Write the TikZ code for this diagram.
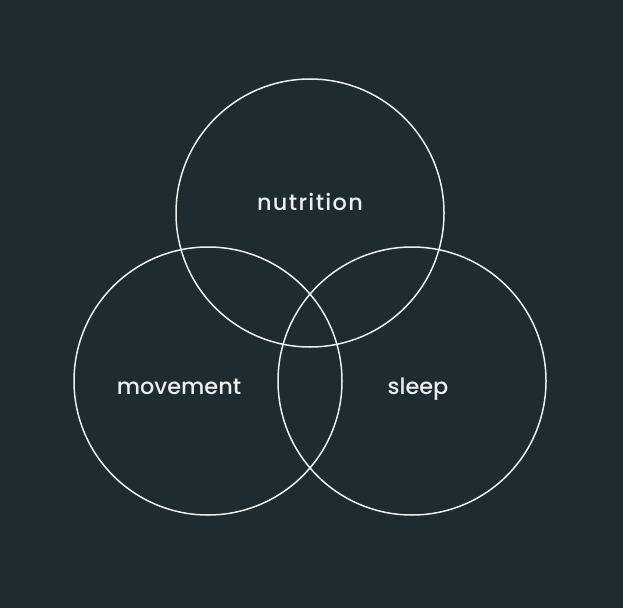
\documentclass[tikz,border=0pt]{standalone}
\usepackage{fontspec}
\setmainfont{Poppins}
\newfontfamily\lblfont{Poppins Medium}
\newfontfamily\lblwidefont{Poppins Medium}[LetterSpace=6]
\definecolor{bg}{HTML}{1E2B31}
\definecolor{ink}{HTML}{ECEFEF}
\begin{document}
\begin{tikzpicture}[x=1bp,y=-1bp,
  ring/.style={draw=ink,line width=1.5bp},
  lbl/.style={text=ink,font=\lblfont\fontsize{22.5}{26}\selectfont,inner sep=0pt,anchor=base},
  widelbl/.style={lbl,font=\lblwidefont\fontsize{22.5}{26}\selectfont}]
\fill[bg] (0,0) rectangle (623,608);
\useasboundingbox (0,0) rectangle (623,608);
\draw[ring] (310,213) circle[radius=134];
\draw[ring] (208,381) circle[radius=134];
\draw[ring] (412,381) circle[radius=134];
\node[widelbl] (nutrition) at (310,210) {nutrition};
\node[lbl] (movement) at (179,394) {movement};
\node[lbl] (sleep) at (418,394) {sleep};
\end{tikzpicture}
\end{document}
